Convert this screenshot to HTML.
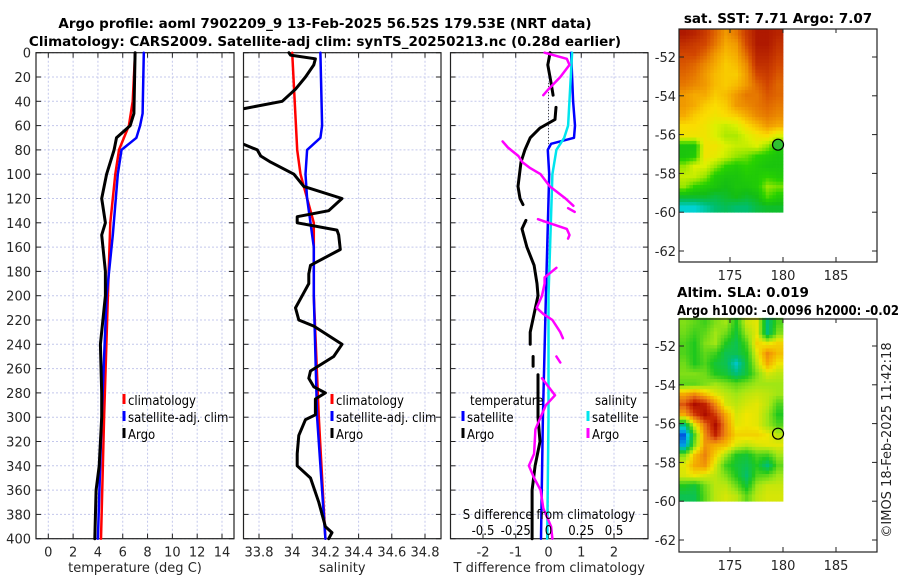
<!DOCTYPE html>
<html><head><meta charset="utf-8"><style>
html,body{margin:0;padding:0;background:#fff;}
svg{display:block;font-family:"DejaVu Sans","Liberation Sans",sans-serif;}
.tk{font-size:13px;fill:#262626;}
.lg{font-family:"DejaVu Sans Condensed","DejaVu Sans","Liberation Sans",sans-serif;font-size:13px;fill:#000;}
.tt{font-weight:bold;font-size:13.5px;fill:#000;}
</style></head><body>
<svg id="fig" width="900" height="580" viewBox="0 0 900 580" xmlns="http://www.w3.org/2000/svg">
<text class="tt" x="325" y="28" text-anchor="middle">Argo profile: aoml 7902209_9 13-Feb-2025 56.52S 179.53E (NRT data)</text>
<text class="tt" x="325" y="46" text-anchor="middle">Climatology: CARS2009. Satellite-adj clim: synTS_20250213.nc (0.28d earlier)</text>
<text class="tt" x="778" y="23" text-anchor="middle">sat. SST: 7.71 Argo: 7.07</text>
<text class="tt" x="677" y="297">Altim. SLA: 0.019</text>
<text class="tt" x="677" y="315" textLength="222" lengthAdjust="spacingAndGlyphs">Argo h1000: -0.0096 h2000: -0.02</text>
<text x="891" y="440" font-size="13" fill="#222" text-anchor="middle" transform="rotate(-90 891 440)">©IMOS 18-Feb-2025 11:42:18</text>
</svg>
<script>
// ---------- data ----------
const depthTicks=[0,20,40,60,80,100,120,140,160,180,200,220,240,260,280,300,320,340,360,380,400];
const tempTicks=[0,2,4,6,8,10,12,14];
const salTicks=[33.8,34,34.2,34.4,34.6,34.8];
const salTickLabels=["33.8","34","34.2","34.4","34.6","34.8"];
const dTTicks=[-2,-1,0,1,2];
const dSTicks=[-0.5,-0.25,0,0.25,0.5];
const dSTickLabels=["-0.5","-0.25","0","0.25","0.5"];

const tClimD=[0,40,60,80,100,140,200,300,400];
const tClimV=[7.0,6.8,6.5,5.7,5.4,5.0,4.8,4.5,4.25];
const tSatD=[0,50,60,70,80,100,150,200,300,400];
const tSatV=[7.7,7.6,7.4,7.1,5.9,5.6,5.2,4.7,4.3,4.0];
const tArgoD=[0,50,60,70,80,100,120,140,150,180,200,220,240,280,300,340,360,400];
const tArgoV=[7.0,6.9,6.6,5.5,5.3,4.7,4.3,4.6,4.3,4.6,4.6,4.4,4.2,4.3,4.3,4.1,3.85,3.75];

const sClimD=[0,80,100,140,160,200,300,400];
const sClimV=[34.00,34.03,34.05,34.13,34.13,34.13,34.16,34.20];
const sSatD=[0,60,70,80,100,120,140,160,200,300,400];
const sSatV=[34.17,34.18,34.17,34.09,34.08,34.09,34.11,34.13,34.13,34.15,34.20];
const sArgoD=[0,2,5,10,20,30,40,46,60,75,80,85,90,100,110,120,130,135,140,146,150,162,175,182,190,200,210,220,225,240,250,262,268,275,280,285,298,302,315,330,340,350,370,390,395,400];
const sArgoV=[33.98,33.99,34.14,34.13,34.08,34.02,33.94,33.71,null,33.70,33.79,33.81,33.87,34.01,34.07,34.30,34.22,34.03,34.03,34.27,34.28,34.29,34.11,34.10,34.10,34.06,34.02,34.04,34.13,34.30,34.25,34.11,34.10,34.13,34.20,34.14,34.14,34.08,34.04,34.03,34.03,34.11,34.16,34.20,34.24,34.22];

const dTSatD=[0,40,60,70,75,80,100,200,300,400];
const dTSatV=[0.69,0.75,0.81,0.78,0.08,-0.02,0.02,-0.08,-0.17,-0.23];
const dSSatD=[0,60,70,80,100,200,300,400];
const dSSatV=[0.18,0.15,0.12,0.06,0.03,0,0,-0.01];
const dTArgoD=[0,10,25,35,40,45,55,62,70,80,90,110,120,125,130,138,145,160,175,190,200,215,230,240,245,250,258,262,265,300,320,340,360,400];
const dTArgoV=[0.05,-0.02,0.08,0.14,null,0.23,0.2,-0.26,-0.56,-0.72,-0.84,-0.93,-0.87,-0.78,null,-0.69,-0.81,-0.66,-0.44,-0.35,-0.32,-0.44,-0.56,-0.56,null,-0.47,-0.47,null,-0.32,-0.32,-0.26,-0.41,-0.5,-0.5];
const dSArgoD=[0,5,10,20,30,35,50,73,78,85,90,95,100,110,120,126,127,128,131,134,137,140,145,150,153,165,177,185,190,200,210,215,220,230,235,242,250,255,262,268,275,282,290,300,310,330,340,350,360,375,390,400];
const dSArgoV=[-0.03,0.14,0.16,0.09,0,-0.04,null,-0.35,-0.31,-0.23,-0.2,-0.14,-0.06,0.01,0.13,0.19,null,0.15,0.2,null,-0.08,0,0.14,0.16,0.15,null,0.06,-0.03,-0.03,-0.05,-0.09,-0.04,0.03,0.09,0.11,null,0.06,0.09,null,-0.05,0,0.05,-0.02,-0.06,-0.1,-0.11,-0.15,-0.11,-0.06,-0.04,0.02,0.03];

const latTicks=[-52,-54,-56,-58,-60,-62];
const lonTicks=[175,180,185];
const argoLon=179.53, argoLat=-56.52;
const sstGrid=[
[9.2,9.1,8.9,8.6,8.3,8.5,8.9,9.2,9.2,9.1],
[9.0,8.9,8.8,8.5,8.2,8.3,8.8,9.2,9.2,9.0],
[8.8,8.8,8.6,8.3,8.1,8.2,8.6,9.1,9.1,8.9],
[8.7,8.6,8.4,8.2,8.0,8.1,8.4,9.0,9.0,8.8],
[8.6,8.5,8.3,8.1,8.0,8.0,8.3,8.8,8.9,8.7],
[8.5,8.4,8.3,8.1,8.0,8.1,8.3,8.6,8.8,8.6],
[8.3,8.2,8.2,8.0,8.1,8.3,8.5,8.5,8.7,8.6],
[8.3,8.2,8.0,7.9,8.0,8.3,8.4,8.5,8.6,8.5],
[8.2,8.0,7.9,7.8,7.9,8.0,8.2,8.4,8.5,8.4],
[7.9,7.9,7.8,7.6,7.5,7.6,7.9,8.1,8.3,8.2],
[7.8,7.8,7.8,7.6,7.4,7.4,7.6,7.8,7.9,7.6],
[6.8,6.8,7.8,7.8,7.6,7.5,7.5,7.6,7.3,6.9],
[6.8,6.9,7.8,7.7,7.5,7.3,7.2,7.0,6.9,6.8],
[7.3,7.6,7.6,7.3,7.0,6.9,7.0,6.9,6.8,6.8],
[7.5,7.5,7.3,6.9,6.8,6.8,6.9,6.9,7.0,6.9],
[7.3,7.0,6.9,6.8,6.7,6.8,6.8,6.9,7.3,7.2],
[6.6,6.6,6.6,6.5,6.6,6.7,6.6,6.7,7.1,6.9],
[5.9,5.9,6.1,6.3,6.4,6.3,6.3,6.5,6.6,6.6]];
const slaGrid=[
[-0.02,-0.04,-0.06,-0.02,0.0,-0.08,0.03,0.05,-0.15,-0.05],
[-0.03,-0.06,-0.04,0.0,-0.03,-0.1,0.0,0.05,-0.15,-0.02],
[-0.05,-0.08,-0.02,0.0,-0.08,-0.12,-0.05,0.08,0.05,0.08],
[-0.05,-0.08,-0.04,-0.06,-0.12,-0.12,-0.08,0.05,0.15,0.1],
[-0.03,-0.08,-0.05,-0.1,-0.12,-0.2,-0.1,0.02,0.12,0.06],
[-0.02,-0.02,-0.03,-0.08,-0.1,-0.15,-0.1,-0.02,0.04,0.02],
[-0.04,-0.04,-0.02,0.0,-0.02,-0.04,-0.02,0.0,0.0,0.0],
[0.12,0.15,0.1,0.05,0.02,0.0,0.02,0.03,0.02,0.0],
[0.2,0.28,0.25,0.15,0.04,0.02,0.04,0.05,0.02,-0.05],
[0.12,0.22,0.28,0.22,0.12,0.04,0.06,0.05,0.0,-0.08],
[-0.15,0.05,0.18,0.28,0.15,0.05,0.06,0.05,0.0,-0.05],
[-0.3,-0.05,0.15,0.25,0.15,0.08,0.08,0.08,0.06,0.02],
[-0.25,-0.02,0.14,0.12,0.1,0.04,0.02,0.04,0.05,0.05],
[-0.02,0.1,0.16,0.08,0.0,-0.08,-0.1,-0.05,-0.06,0.0],
[0.05,0.12,0.14,0.04,-0.06,-0.1,-0.12,-0.08,-0.15,-0.04],
[0.04,0.06,0.04,0.02,-0.02,-0.08,-0.14,-0.05,-0.04,0.0],
[-0.08,-0.1,-0.03,0.02,0.02,-0.03,-0.1,0.0,0.03,0.03],
[-0.12,-0.12,-0.04,0.02,0.04,0.02,-0.04,0.02,0.04,0.04]];

// ---------- helpers ----------
const svg=document.getElementById('fig');
const NS='http://www.w3.org/2000/svg';
function mk(tag,attrs,parent){const e=document.createElementNS(NS,tag);for(const k in attrs)e.setAttribute(k,attrs[k]);(parent||svg).appendChild(e);return e;}
const Y0=52.7,Y1=538.7;
const yD=d=>Y0+(Y1-Y0)*d/400;
function linScale(d0,d1,p0,p1){return v=>p0+(v-d0)*(p1-p0)/(d1-d0);}

function panel(name,left,right,xs,ticks,labels,xlabel,showY){
  const g=mk('g',{});
  
  
  ticks.forEach(t=>{const x=xs(t);const l=mk('line',{x1:x,x2:x,y1:Y0,y2:Y1,stroke:'#c4c8ec','stroke-width':1,'stroke-dasharray':'2,2'},g);
    });
  depthTicks.forEach(d=>{const y=yD(d);const l=mk('line',{x1:left,x2:right,y1:y,y2:y,stroke:'#c4c8ec','stroke-width':1,'stroke-dasharray':'2,2'},g);
    
    mk('line',{x1:left,x2:left+5,y1:y,y2:y,stroke:'#222'},g);mk('line',{x1:right-5,x2:right,y1:y,y2:y,stroke:'#222'},g);
    if(showY){const t=mk('text',{x:left-5,y:y+5,'text-anchor':'end',class:'tk'},g);t.textContent=d;
      }
  });
  ticks.forEach((t,i)=>{const x=xs(t);mk('line',{x1:x,x2:x,y1:Y1-5,y2:Y1,stroke:'#222'},g);mk('line',{x1:x,x2:x,y1:Y0,y2:Y0+5,stroke:'#222'},g);
    const tx=mk('text',{x:x,y:Y1+18,'text-anchor':'middle',class:'tk'},g);tx.textContent=labels[i];
    });
  const r=mk('rect',{x:left,y:Y0,width:right-left,height:Y1-Y0,fill:'none',stroke:'#222','stroke-width':1.2},g);
  
  const xl=mk('text',{x:(left+right)/2,y:572,'text-anchor':'middle',class:'tk'},g);xl.textContent=xlabel;
  
  return g;
}
let clipN=0;
function clipFor(left,right){const id='c'+(clipN++);const cp=mk('clipPath',{id:id});mk('rect',{x:left,y:Y0-2,width:right-left,height:Y1-Y0+4},cp);return id;}
function series(name,ds,vs,xs,color,w,clip){
  let d='';let pen=false;
  for(let i=0;i<ds.length;i++){if(vs[i]===null||vs[i]===undefined){pen=false;continue;}
    d+=(pen?'L':'M')+xs(vs[i]).toFixed(1)+','+yD(ds[i]).toFixed(1);pen=true;}
  const p=mk('path',{d:d,fill:'none',stroke:color,'stroke-width':w,'stroke-linejoin':'round','stroke-linecap':'round','clip-path':'url(#'+clip+')'});
  
  
  return p;
}
function legend(x,y,items){items.forEach((it,i)=>{const yy=y+i*17;
  const b=mk('line',{x1:x,x2:x,y1:yy-11,y2:yy-1,stroke:it[1],'stroke-width':3});
  
  const t=mk('text',{x:x+4,y:yy,class:'lg'});t.textContent=it[0];
  });}

// ---------- panel 1: temperature ----------
const xT=linScale(0,14,48.3,222);
panel('temperature-panel',36,234,xT,tempTicks,tempTicks.map(String),'temperature (deg C)',true);
let c1=clipFor(36,234);
series('temp-climatology-line',tClimD,tClimV,xT,'#ff0000',2.5,c1);
series('temp-satellite-line',tSatD,tSatV,xT,'#0000ff',2.5,c1);
series('temp-argo-line',tArgoD,tArgoV,xT,'#000000',3,c1);
legend(124,405,[['climatology','#ff0000'],['satellite-adj. clim','#0000ff'],['Argo','#000']]);

// ---------- panel 2: salinity ----------
const xS=linScale(33.8,34.8,259,425);
panel('salinity-panel',243.5,441,xS,salTicks,salTickLabels,'salinity',false);
let c2=clipFor(243.5,441);
series('sal-climatology-line',sClimD,sClimV,xS,'#ff0000',2.5,c2);
series('sal-satellite-line',sSatD,sSatV,xS,'#0000ff',2.5,c2);
series('sal-argo-line',sArgoD,sArgoV,xS,'#000000',3,c2);
legend(332,405,[['climatology','#ff0000'],['satellite-adj. clim','#0000ff'],['Argo','#000']]);

// ---------- panel 3: differences ----------
const xDT=linScale(0,1,548.5,581.25);
const xDS=linScale(0,0.25,548.5,581.25);
panel('difference-panel',450.5,648,xDT,dTTicks,dTTicks.map(String),'T difference from climatology',false);
let c3=clipFor(450.5,648);
const zl=mk('line',{x1:xDT(0),x2:xDT(0),y1:yD(25),y2:yD(80),stroke:'#333','stroke-width':1,'stroke-dasharray':'1,2'});

series('dT-satellite-line',dTSatD,dTSatV,xDT,'#0000ff',2.5,c3);
series('dS-satellite-line',dSSatD,dSSatV,xDS,'#00e5ee',2.5,c3);
series('dT-argo-line',dTArgoD,dTArgoV,xDT,'#000000',3,c3);
series('dS-argo-line',dSArgoD,dSArgoV,xDS,'#ff00ff',2.5,c3);
let t=mk('text',{x:470,y:405,class:'lg'});t.textContent='temperature';

t=mk('text',{x:595,y:405,class:'lg'});t.textContent='salinity';

legend(463,422,[['satellite','#0000ff'],['Argo','#000']]);
legend(588,422,[['satellite','#00e5ee'],['Argo','#ff00ff']]);
t=mk('text',{x:549,y:519,'text-anchor':'middle',class:'lg'});t.textContent='S difference from climatology';

dSTicks.forEach((v,i)=>{const tt=mk('text',{x:xDS(v),y:535,'text-anchor':'middle',class:'lg'});tt.textContent=dSTickLabels[i];
  });

// ---------- maps ----------
function interpColor(stops,v){
  if(v<=stops[0][0])return 'rgb('+stops[0][1].join(',')+')';
  for(let i=1;i<stops.length;i++){if(v<=stops[i][0]){const a=stops[i-1],b=stops[i];const f=(v-a[0])/(b[0]-a[0]);
    return 'rgb('+[0,1,2].map(k=>Math.round(a[1][k]+(b[1][k]-a[1][k])*f)).join(',')+')';}}
  return 'rgb('+stops[stops.length-1][1].join(',')+')';
}
const sstStops=[[5.9,[0,210,210]],[6.3,[0,190,110]],[6.7,[20,190,20]],[7.0,[40,210,0]],[7.3,[150,230,0]],[7.6,[220,240,0]],[7.9,[250,220,0]],[8.2,[245,170,0]],[8.5,[230,120,0]],[8.8,[210,70,0]],[9.2,[175,25,0]]];
const slaStops=[[-0.32,[0,60,220]],[-0.22,[0,200,230]],[-0.15,[0,190,120]],[-0.08,[30,200,30]],[0,[160,230,20]],[0.06,[240,230,0]],[0.12,[245,170,0]],[0.18,[230,110,20]],[0.24,[200,40,0]],[0.3,[160,0,0]]];
function sampleGrid(grid,fr,fc){
  const nr=grid.length,nc=grid[0].length;
  const r=Math.min(Math.max(fr,0),nr-1),c=Math.min(Math.max(fc,0),nc-1);
  const r0=Math.floor(r),c0=Math.floor(c),r1=Math.min(r0+1,nr-1),c1=Math.min(c0+1,nc-1);
  const a=r-r0,b=c-c0;
  return grid[r0][c0]*(1-a)*(1-b)+grid[r0][c1]*(1-a)*b+grid[r1][c0]*a*(1-b)+grid[r1][c1]*a*b;
}
function mapPanel(name,top,bottom,latRef,grid,stops,markerFill){
  const L=679,R=877;
  const xLon=linScale(175,180,730,783);
  const yLat=linScale(-52,-62,latRef,latRef+194);
  const g=mk('g',{});
  
  
  const lon0=170.2,lon1=180,lat0=-50.55,lat1=-60;
  const nr=grid.length,nc=grid[0].length,S=3;
  const dLon=(lon1-lon0)/(nc*S),dLat=(lat1-lat0)/(nr*S);
  for(let r=0;r<nr*S;r++)for(let c=0;c<nc*S;c++){
    const v=sampleGrid(grid,(r+0.5)/S-0.5,(c+0.5)/S-0.5);
    const x0=xLon(lon0+c*dLon),x1=xLon(lon0+(c+1)*dLon),y0=yLat(lat0+r*dLat),y1=yLat(lat0+(r+1)*dLat);
    const cell=mk('rect',{x:x0.toFixed(2),y:y0.toFixed(2),width:(x1-x0+0.4).toFixed(2),height:(y1-y0+0.4).toFixed(2),fill:interpColor(stops,v)},g);
    
    
  }
  const fr=mk('rect',{x:L,y:top,width:R-L,height:bottom-top,fill:'none',stroke:'#222','stroke-width':1.2},g);
  
  latTicks.forEach(v=>{const y=yLat(v);mk('line',{x1:L,x2:L+5,y1:y,y2:y,stroke:'#222'},g);mk('line',{x1:R-5,x2:R,y1:y,y2:y,stroke:'#222'},g);
    const tx=mk('text',{x:L-3,y:y+5,'text-anchor':'end',class:'tk'},g);tx.textContent=v;
    });
  lonTicks.forEach(v=>{const x=xLon(v);mk('line',{x1:x,x2:x,y1:bottom-5,y2:bottom,stroke:'#222'},g);mk('line',{x1:x,x2:x,y1:top,y2:top+4,stroke:'#222'},g);
    const tx=mk('text',{x:x,y:bottom+18,'text-anchor':'middle',class:'tk'},g);tx.textContent=v;
    });
  const m=mk('circle',{cx:xLon(argoLon),cy:yLat(argoLat),r:5.5,fill:markerFill,stroke:'#000','stroke-width':1.2},g);
  
  
}
mapPanel('sst-map',29,262,57,sstGrid,sstStops,'#30c030');
mapPanel('sla-map',319,552,346,slaGrid,slaStops,'none');
</script>
</body></html>
